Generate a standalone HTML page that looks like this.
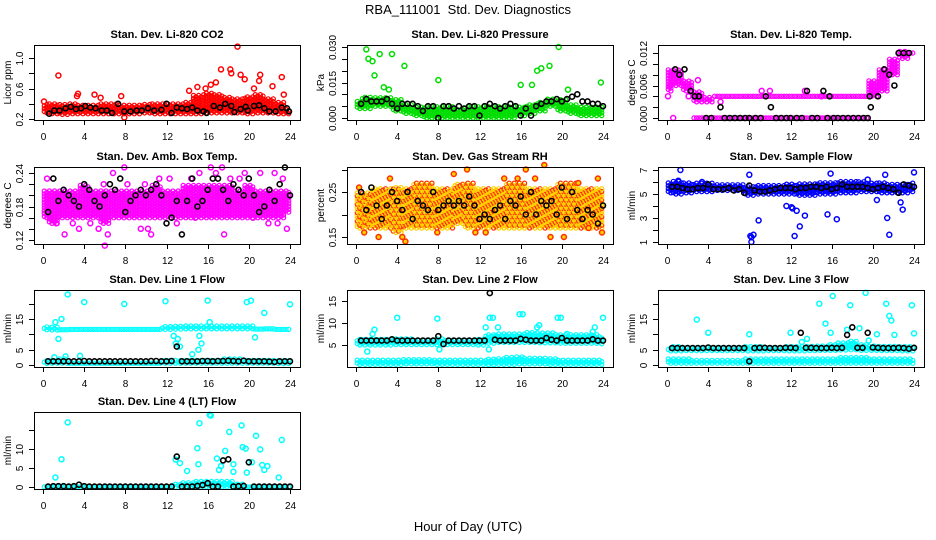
<!DOCTYPE html>
<html><head><meta charset="utf-8"><title>RBA_111001 Std. Dev. Diagnostics</title>
<style>
html,body{margin:0;padding:0;background:#fff;}
svg{display:block;font-family:"Liberation Sans",sans-serif;}
</style></head>
<body>
<svg id="chart" width="936" height="540" viewBox="0 0 936 540">
<text x="468" y="14" font-size="13" text-anchor="middle">RBA_111001&#160; Std. Dev. Diagnostics</text>
<text x="468" y="531" font-size="13" text-anchor="middle">Hour of Day (UTC)</text>
</svg>
<script>
// ---------- shared categories ----------
const bandHours = [0,1,2,3,4,5,6,7,8,9,10,11,12,13,14,15,16,17,18,19,20,21,22,23,24];
const halfHours = [0.5,1,1.5,2,2.5,3,3.5,4,4.5,5,5.5,6,6.5,7,7.5,8,8.5,9,9.5,10,10.5,11,11.5,12,12.5,13,13.5,14,14.5,15,15.5,16,16.5,17,17.5,18,18.5,19,19.5,20,20.5,21,21.5,22,22.5,23,23.5,24];
const xTickLabels = [0,4,8,12,16,20,24];

// ---------- CO2 ----------
const co2Lo = [0.28,0.27,0.26,0.27,0.27,0.27,0.27,0.27,0.27,0.27,0.28,0.27,0.27,0.27,0.27,0.27,0.28,0.28,0.28,0.28,0.27,0.28,0.28,0.27,0.27];
const co2Hi = [0.40,0.41,0.39,0.40,0.39,0.39,0.40,0.40,0.39,0.39,0.40,0.40,0.40,0.40,0.43,0.52,0.55,0.52,0.50,0.47,0.50,0.52,0.47,0.43,0.34];
const co2OutX = [1.5,3.4,3.3,5,5.6,7.6,7.9,14.2,15.8,16.3,17.3,18.2,18.3,18.9,19.2,19.6,21.1,21,22.3,23.2,23.4,0.1,15,16.8,20.5];
const co2OutY = [0.77,0.53,0.50,0.52,0.48,0.50,0.22,0.57,0.60,0.65,0.85,0.85,0.80,1.15,0.78,0.72,0.78,0.70,0.63,0.75,0.52,0.43,0.62,0.68,0.6];
const co2BlkX = [0.6,1.1,1.6,2.2,2.7,3.2,3.7,4.1,4.6,5.1,5.7,6.2,6.7,7.3,7.9,8.5,9.1,9.6,10.2,10.8,11.5,12,12.5,13,13.5,14,14.5,15,15.6,15.9,16.6,17.2,17.7,18.3,18.6,19.2,19.7,19.9,20.5,21,21.5,22,22.6,23.2,23.7,23.9];
const co2BlkY = [0.27,0.31,0.31,0.34,0.36,0.33,0.34,0.37,0.35,0.34,0.31,0.31,0.28,0.40,0.30,0.30,0.31,0.31,0.34,0.31,0.32,0.40,0.28,0.35,0.34,0.33,0.35,0.31,0.30,0.28,0.37,0.35,0.40,0.37,0.29,0.33,0.36,0.31,0.37,0.38,0.34,0.30,0.30,0.35,0.34,0.30];

// ---------- Pressure ----------
const presLo = [0.004,0.004,0.005,0.005,0.003,0.002,0.001,0.000,0.000,0.000,0.000,0.000,0.000,0.000,0.000,0.000,0.001,0.002,0.003,0.005,0.003,0.002,0.001,0.001,0.001];
const presHi = [0.007,0.009,0.009,0.009,0.008,0.006,0.005,0.005,0.005,0.005,0.004,0.005,0.005,0.005,0.005,0.005,0.005,0.006,0.007,0.008,0.008,0.006,0.005,0.005,0.005];
const presOutX = [1,1.2,1.6,1.8,2.3,3.5,4.7,8,16,17.1,17.6,18,18.8,19.7,20.6,23.8,2.7,3.2];
const presOutY = [0.029,0.025,0.024,0.018,0.027,0.027,0.022,0.016,0.014,0.014,0.020,0.021,0.022,0.030,0.012,0.015,0.013,0.012];
const presBlkY = [0.006,0.008,0.007,0.007,0.007,0.008,0.006,0.004,0.006,0.006,0.006,0.005,0.003,0.005,0.005,0.000,0.005,0.005,0.004,0.005,0.004,0.005,0.005,0.001,0.005,0.006,0.005,0.004,0.005,0.006,0.005,0.001,0.004,0.001,0.005,0.006,0.007,0.007,0.008,0.007,0.008,0.009,0.010,0.007,0.007,0.006,0.006,0.005];

// ---------- Li-820 Temp ----------
const tempLo = [0.005,0.006,0.005,0.003,0.003,0.004,0.004,0.004,0.004,0.004,0.004,0.004,0.004,0.004,0.004,0.004,0.004,0.004,0.004,0.004,0.004,0.005,0.008,0.011,0.012];
const tempHi = [0.009,0.009,0.007,0.005,0.004,0.004,0.004,0.004,0.004,0.004,0.004,0.004,0.004,0.004,0.004,0.004,0.004,0.004,0.004,0.004,0.007,0.009,0.011,0.0125,0.0125];
const tempZeroLo = [null,null,null,0,0,0,0,0,0,0,0,0,0,0,0,0,0,0,0,0,null,null,null,null,null];
const tempZeroHi = [null,null,null,0,0,0,0,0,0,0,0,0,0,0,0,0,0,0,0,0,null,null,null,null,null];
const tempOutX = [0.6,0.1,0.3,2.1,3.0,5.2,9.2,10,13.4,15.0];
const tempOutY = [0.000,0.004,0.006,0.004,0.007,0.003,0.005,0.005,0.005,0.004];
const tempBlkX = [0.8,1.2,1.7,2.3,2.7,3.1,3.8,4.3,5.2,5.6,6.1,6.6,7.1,7.6,8,8.6,9.1,9.6,10.1,10.6,11.1,11.6,12,12.6,13.1,13.6,14.1,14.6,15.2,15.6,15.8,16.2,16.6,17.1,17.6,18.1,18.6,19.1,19.5,19.7,19.8,20.5,21.1,21.6,22.1,22.5,23,23.5];
const tempBlkY = [0.009,0.008,0.009,0.005,0.004,0.004,0,0,0.002,0,0,0,0,0,0,0,0,0.004,0.002,0,0,0,0,0,0,0.005,0,0,0.005,0,0.004,0,0,0,0,0,0,0,0,0.004,0.002,0.004,0.009,0.008,0.006,0.012,0.012,0.012];

// ---------- Amb Box Temp ----------
const ambLo = [0.16,0.15,0.16,0.16,0.16,0.16,0.15,0.16,0.16,0.16,0.16,0.16,0.16,0.16,0.16,0.16,0.16,0.16,0.16,0.16,0.16,0.16,0.16,0.16,0.17];
const ambHi = [0.21,0.21,0.21,0.21,0.22,0.21,0.21,0.21,0.21,0.21,0.21,0.22,0.21,0.21,0.22,0.22,0.22,0.22,0.22,0.21,0.22,0.21,0.21,0.21,0.21];
const ambOutX = [0.4,0.7,2.1,2.9,3.5,4.6,5.4,6.0,6.3,6.8,7.9,8.2,9.5,9.9,10.5,11.3,12.3,13.0,14.4,15.2,16.3,16.8,17.4,17.6,18.2,19.1,20.4,21.1,21.9,22.5,23.3,23.7,1.3,5.9,10.2,14.8,19.6,22.8];
const ambOutY = [0.23,0.16,0.13,0.15,0.14,0.15,0.14,0.11,0.13,0.24,0.25,0.22,0.14,0.22,0.13,0.23,0.23,0.15,0.23,0.24,0.25,0.24,0.25,0.13,0.23,0.23,0.16,0.24,0.15,0.24,0.23,0.14,0.15,0.22,0.14,0.16,0.24,0.15];
const ambBlkY = [0.17,0.23,0.19,0.21,0.20,0.19,0.18,0.22,0.21,0.19,0.18,0.20,0.22,0.21,0.23,0.17,0.19,0.20,0.21,0.20,0.21,0.22,0.20,0.15,0.16,0.19,0.13,0.19,0.23,0.18,0.19,0.21,0.23,0.23,0.21,0.19,0.22,0.21,0.20,0.23,0.20,0.17,0.18,0.21,0.19,0.22,0.25,0.20];

// ---------- Gas Stream RH ----------
const rhLo = [0.17,0.17,0.17,0.17,0.16,0.17,0.17,0.17,0.17,0.17,0.18,0.17,0.17,0.17,0.17,0.17,0.17,0.17,0.17,0.17,0.17,0.17,0.17,0.17,0.17];
const rhHi = [0.25,0.25,0.26,0.26,0.26,0.26,0.27,0.27,0.26,0.26,0.27,0.27,0.26,0.26,0.26,0.27,0.27,0.26,0.26,0.26,0.27,0.27,0.26,0.26,0.26];
const rhOutX = [0.3,0.8,2.2,3.3,4.5,4.8,9.5,10.8,11.6,14.4,15.7,16.5,17.4,18.3,18.9,20.2,21.6,22.6,23.5,23.9,7.9,12.6];
const rhOutY = [0.26,0.16,0.15,0.28,0.15,0.14,0.29,0.30,0.16,0.28,0.28,0.30,0.28,0.31,0.15,0.15,0.27,0.17,0.28,0.16,0.16,0.16];
const rhBlkY = [0.25,0.21,0.26,0.22,0.19,0.22,0.25,0.23,0.21,0.25,0.19,0.23,0.22,0.21,0.25,0.21,0.22,0.23,0.22,0.23,0.22,0.24,0.22,0.19,0.20,0.19,0.21,0.22,0.19,0.23,0.22,0.24,0.20,0.25,0.20,0.23,0.22,0.23,0.20,0.26,0.19,0.25,0.21,0.19,0.21,0.20,0.18,0.22];

// ---------- Sample Flow ----------
const sfLo = [5.1,5.0,5.1,5.2,5.2,5.3,5.3,5.3,4.9,5.0,5.0,5.0,5.0,4.9,4.9,5.0,5.0,5.1,5.1,5.2,5.2,5.1,5.1,5.1,5.2];
const sfHi = [6.0,6.1,6.0,5.9,5.9,5.8,5.8,5.8,5.7,5.7,5.8,5.8,5.9,5.9,5.9,6.0,6.0,6.1,6.1,6.1,6.0,6.0,5.9,5.9,6.0];
const sfOutX = [1.3,1.1,3.4,8.0,8.2,8.4,8.2,8.9,8.1,11.6,12.2,12.4,12.6,12.1,12.9,13.4,15.6,15.9,15.7,16.5,19.5,20.4,21.2,21.4,21.6,22.9,22.7,24];
const sfOutY = [7.0,6.1,6.0,6.6,1.0,1.6,1.4,2.8,1.5,4.0,3.8,1.5,3.6,3.9,2.3,3.2,3.3,6.7,5.3,2.9,6.2,4.5,6.6,3.0,1.6,3.7,4.3,6.8];
const sfBlkY = [5.6,5.6,5.5,5.4,5.4,5.5,5.5,5.8,5.4,5.4,5.4,5.5,5.3,5.4,5.1,5.7,5.3,5.2,5.2,5.3,5.4,5.5,5.5,5.5,5.4,5.5,5.5,5.6,5.6,5.5,5.6,5.4,5.5,5.8,5.6,5.6,5.6,5.6,5.5,5.4,5.5,5.6,5.5,5.4,5.1,5.8,5.7,5.6];

// ---------- Line 1 Flow ----------
const l1aLo = [11.5,11.4,11.5,11.6,11.6,11.6,11.6,11.6,11.6,11.6,11.6,11.6,11.6,11.7,11.8,11.8,11.8,11.8,11.8,11.8,11.8,11.7,11.8,11.6,11.6];
const l1aHi = [12.8,12.6,12.4,12.4,12.4,12.4,12.3,12.3,12.4,12.4,12.4,12.5,12.8,13.0,12.8,12.9,12.8,12.8,12.8,12.8,12.9,12.6,12.5,12.3,12.2];
const l1bLo = [0.5,0.6,0.6,0.6,0.6,0.6,0.6,0.6,0.6,0.6,0.6,0.6,0.6,0.6,0.6,0.6,0.6,0.6,0.6,0.6,0.6,0.6,0.6,0.5,0.5];
const l1bHi = [1.5,1.6,2.0,1.5,1.5,1.5,1.5,1.5,1.5,1.5,1.5,1.5,1.6,1.8,1.6,1.6,1.8,1.9,2.0,2.0,1.8,1.6,1.6,1.6,1.6];
const l1OutX = [1.5,1.1,2.4,1.8,4,3.6,1.2,2.2,7.9,11.9,12.9,13.1,13.3,14.5,15.1,15.4,16,16.2,19.8,20.2,20.6,21.5,24,12.7,15.2];
const l1OutY = [8.5,2.5,23.0,15.0,20.5,3.0,14.0,2.8,19.9,20.8,7.0,8.5,6.0,3.5,5.0,7.0,21.0,14.0,20.5,21.0,9.0,17.0,19.8,9.5,9.5];
const l1BlkY = [1.2,1.2,1.2,1.2,1.2,1.2,1.2,1.3,1.2,1.2,1.2,1.2,1.2,1.2,1.2,1.2,1.2,1.2,1.2,1.2,1.3,1.3,1.2,1.2,1.3,6.0,1.2,1.2,1.2,1.2,1.3,1.3,1.2,1.3,1.3,1.4,1.3,1.2,1.4,1.2,1.2,1.2,1.2,1.1,1.0,1.2,1.2,1.2];

// ---------- Line 2 Flow ----------
const l2aLo = [5.0,5.0,5.0,5.0,5.1,5.1,5.1,5.1,5.1,5.1,5.1,5.1,5.0,5.4,5.6,5.6,5.6,5.6,5.5,5.5,5.4,5.4,5.4,5.4,5.3];
const l2aHi = [6.5,6.5,6.3,6.3,6.4,6.4,6.2,6.2,6.4,6.3,6.3,6.3,6.5,7.4,7.6,7.8,7.8,8.0,8.0,7.8,7.6,7.5,7.6,7.5,7.0];
const l2bLo = [0.6,0.6,0.6,0.6,0.6,0.7,0.7,0.7,0.6,0.6,0.6,0.6,0.6,0.5,0.6,0.6,0.7,0.7,0.7,0.6,0.6,0.6,0.6,0.6,0.6];
const l2bHi = [1.8,1.8,1.7,1.7,1.7,1.7,1.8,1.8,1.8,1.8,1.8,1.8,1.8,1.8,2.0,2.2,2.3,2.0,2.0,2.0,1.8,1.8,1.8,1.8,1.8];
const l2OutX = [1.1,1.6,1.8,4,7.9,8.1,12.6,13,13.3,13.6,13.8,15.9,16.2,17.6,19.6,19.9,23,23.2,24,17.8,20.5,12.9];
const l2OutY = [3.5,7.5,8.5,11.2,11.0,4.0,9.0,11.2,11.2,7.0,9.0,12.0,12.0,9.0,11.2,11.2,8.0,9.0,11.2,9.5,7.5,4.0];
const l2BlkY = [6,6,6,6,6,6,6.3,6,6,6,6,6,6,6,6,7,5.2,6,6,6,6,6,6,6,6,16.8,6.2,6,6,6,6,6.4,6.2,6,6,6,6.6,6.2,6,6.6,6,6,6,6,6,6.3,6,6];

// ---------- Line 3 Flow ----------
const l3aLo = [4.6,4.6,4.7,4.7,4.7,4.7,4.7,4.7,4.6,4.6,4.7,4.7,4.6,4.6,4.7,4.8,4.8,4.9,5.0,4.8,4.8,4.7,4.7,4.6,4.6];
const l3aHi = [5.9,6.2,6.0,6.0,6.0,6.0,6.0,6.0,6.1,6.0,6.0,6.0,6.0,6.2,6.3,6.5,7.0,7.5,8.0,7.0,6.6,6.3,6.2,6.2,6.0];
const l3bLo = [0.6,0.6,0.6,0.6,0.6,0.6,0.6,0.6,0.6,0.6,0.6,0.6,0.6,0.6,0.6,0.6,0.6,0.6,0.6,0.6,0.6,0.6,0.6,0.6,0.6];
const l3bHi = [2.0,2.0,2.0,1.9,1.9,1.9,1.9,1.9,2.0,2.0,2.0,2.0,2.0,2.0,2.1,2.3,2.4,2.6,2.7,2.5,2.3,2.1,2.0,2.0,2.0];
const l3OutX = [2.9,4,8,12,13.1,14.8,15.4,15.9,16.1,17.8,18.7,19.3,19.6,20.4,21.3,21.6,21.8,22.1,23.8,24,17.5,13.6];
const l3OutY = [14.8,10.5,10.0,10.5,7.5,20.0,13.5,10.5,22.5,19.5,12.0,23.5,8.0,10.0,20.0,16.0,14.5,9.8,19.5,10.3,11.5,8.5];
const l3BlkY = [5.5,5.5,5.5,5.5,5.5,5.5,5.5,5.7,5.5,5.5,5.5,5.5,5.5,5.5,5.5,1.2,5.5,5.6,5.6,5.5,5.5,5.5,5.6,5.6,5.5,10.5,5.6,5.6,5.5,5.5,5.5,5.6,5.5,5.6,9.8,12.3,5.6,5.6,10.5,5.7,5.6,5.5,5.5,5.5,5.6,5.5,5.3,5.6];

// ---------- Line 4 Flow ----------
const l4Lo = [0,0,0,0,0,0,0,0,0,0,0,0,0,0,0,0,0,0,0,0,0,0,0,0,0];
const l4Hi = [0.6,0.6,0.6,0.6,0.6,0.6,0.6,0.5,0.5,0.5,0.5,0.5,0.5,0.8,1.4,1.5,1.6,1.5,1.6,0.8,0.6,0.6,0.6,0.5,0.5];
const l4OutX = [1.2,1.8,2.4,12.9,13.3,14,15,15.2,15.1,16.2,16.3,16.9,17.1,17.3,17.7,18.1,18.5,18.5,19.3,19.4,19.7,19.8,20.3,20.7,21.1,21.3,21.5,21.8,22.9,23.2];
const l4OutY = [2.5,7.3,17.0,7.2,6.3,4.2,10.2,16.8,6.0,19.0,18.8,7.5,4.5,5.5,9.5,14.5,6.0,4.0,16.2,10.5,10.1,3.8,6.5,13.5,9.9,5.8,4.5,5.5,2.5,12.4];
const l4BlkY = [0.1,0.2,0.2,0.2,0.1,0.2,0.6,0.2,0.1,0.1,0.1,0.1,0.1,0.1,0.1,0.1,0.1,0.1,0.1,0.1,0.1,0.1,0.1,0.1,0.1,8.0,0.1,0.1,0.1,0.3,0.5,1.0,0.1,0.1,7.0,7.3,0.1,0.2,0.3,6.5,0.1,0.1,0.1,0.1,0.1,0.1,0.1,0.1];

// ---------- panel layout ----------
const panels = [
 {id:'co2', title:'Stan. Dev. Li-820 CO2', ylab:'Licor ppm', left:34, top:45, bottom:120, cal:[0.2,119,1.0,58],
  ticks:[0.2,0.4,0.6,0.8,1.0], labs:['0.2','','0.6','','1.0'], color:'#ff0000',
  bands:[[co2Lo,co2Hi]], outX:co2OutX, outY:co2OutY, blkX:co2BlkX, blkY:co2BlkY},
 {id:'pressure', title:'Stan. Dev. Li-820 Pressure', ylab:'kPa', left:347, top:45, bottom:120, cal:[0,118,0.03,47],
  ticks:[0,0.005,0.01,0.015,0.02,0.025,0.03], labs:['0.000','','','0.015','','','0.030'], color:'#00dd00',
  bands:[[presLo,presHi]], outX:presOutX, outY:presOutY, blkX:halfHours, blkY:presBlkY},
 {id:'li820-temp', title:'Stan. Dev. Li-820 Temp.', ylab:'degrees C', left:658, top:45, bottom:120, cal:[0,118,0.012,53],
  ticks:[0,0.002,0.004,0.006,0.008,0.01,0.012], labs:['0.000','','','0.006','','','0.012'], color:'#ff00ff',
  bands:[[tempLo,tempHi],[tempZeroLo,tempZeroHi]], outX:tempOutX, outY:tempOutY, blkX:tempBlkX, blkY:tempBlkY},
 {id:'amb-box-temp', title:'Stan. Dev. Amb. Box Temp.', ylab:'degrees C', left:34, top:167, bottom:244, cal:[0.12,240,0.24,173],
  ticks:[0.12,0.14,0.16,0.18,0.2,0.22,0.24], labs:['0.12','','','0.18','','','0.24'], color:'#ff00ff',
  bands:[[ambLo,ambHi]], outX:ambOutX, outY:ambOutY, blkX:halfHours, blkY:ambBlkY},
 {id:'gas-rh', title:'Stan. Dev. Gas Stream RH', ylab:'percent', left:347, top:167, bottom:244, cal:[0.15,237,0.25,192],
  ticks:[0.15,0.2,0.25,0.3], labs:['0.15','','0.25',''], color:'#ffd000', color2:'#ff3000',
  bands:[[rhLo,rhHi]], outX:rhOutX, outY:rhOutY, blkX:halfHours, blkY:rhBlkY},
 {id:'sample-flow', title:'Stan. Dev. Sample Flow', ylab:'ml/min', left:658, top:167, bottom:244, cal:[1,242,7,170],
  ticks:[1,2,3,4,5,6,7], labs:['1','','3','','5','','7'], color:'#0000ff',
  bands:[[sfLo,sfHi]], outX:sfOutX, outY:sfOutY, blkX:halfHours, blkY:sfBlkY},
 {id:'line1-flow', title:'Stan. Dev. Line 1 Flow', ylab:'ml/min', left:34, top:290, bottom:367, cal:[0,365,15,319],
  ticks:[0,5,10,15,20], labs:['0','5','','15',''], color:'#00ffff',
  bands:[[l1aLo,l1aHi],[l1bLo,l1bHi]], outX:l1OutX, outY:l1OutY, blkX:halfHours, blkY:l1BlkY},
 {id:'line2-flow', title:'Stan. Dev. Line 2 Flow', ylab:'ml/min', left:347, top:290, bottom:367, cal:[5,345,15,301],
  ticks:[5,10,15], labs:['5','10','15'], color:'#00ffff',
  bands:[[l2aLo,l2aHi],[l2bLo,l2bHi]], outX:l2OutX, outY:l2OutY, blkX:halfHours, blkY:l2BlkY},
 {id:'line3-flow', title:'Stan. Dev. Line 3 Flow', ylab:'ml/min', left:658, top:290, bottom:367, cal:[0,365,15,319],
  ticks:[0,5,10,15,20], labs:['0','5','','15',''], color:'#00ffff',
  bands:[[l3aLo,l3aHi],[l3bLo,l3bHi]], outX:l3OutX, outY:l3OutY, blkX:halfHours, blkY:l3BlkY},
 {id:'line4-flow', title:'Stan. Dev. Line 4 (LT) Flow', ylab:'ml/min', left:34, top:412, bottom:489, cal:[0,487,10,449],
  ticks:[0,5,10,15], labs:['0','5','10',''], color:'#00ffff',
  bands:[[l4Lo,l4Hi]], outX:l4OutX, outY:l4OutY, blkX:halfHours, blkY:l4BlkY}
];

const NS = 'http://www.w3.org/2000/svg';
const svg = document.getElementById('chart');
const W = 266, PXH = 247/24;
function mk(tag, attrs, parent){
  const e = document.createElementNS(NS, tag);
  for (const k in attrs) e.setAttribute(k, attrs[k]);
  parent.appendChild(e); return e;
}

panels.forEach(p => {
  const g = mk('g', {}, svg);
  
  
  const xs = h => p.left + 9 + h * PXH;
  const ys = v => p.cal[1] + (v - p.cal[0]) * (p.cal[3] - p.cal[1]) / (p.cal[2] - p.cal[0]);

  // dense bands
  const bg = mk('g', {fill:'none', 'stroke-width':'1.2'}, g);
  
  
  let k = 0;
  p.bands.forEach(b => {
    const lo = b[0], hi = b[1];
    bandHours.forEach((h, i) => {
      if (lo[i] === null || hi[i] === null) return;
      const yTop = ys(hi[i]), yBot = ys(lo[i]);
      let row = 0;
      for (let dx = -0.5; dx < 0.5; dx += 0.25) {
        const hh = h + dx + 0.125;
        if (hh < 0 || hh > 24) continue;
        row++;
        const off = (row % 2) * 1.4;
        let y = yBot - (yBot - yTop > 3 ? off : 0);
        do {
          k++;
          mk('circle', {cx:xs(hh).toFixed(1), cy:y.toFixed(1), r:'2.1',
            stroke: (p.color2 && k % 3 === 0) ? p.color2 : p.color}, bg);
          y -= 2.8;
        } while (y >= yTop - 0.01);
      }
    });
  });

  // outliers
  const og = mk('g', {fill:'none', 'stroke-width':'1.5', stroke:p.color}, g);
  
  
  p.outX.forEach((h, i) => {
    const y = ys(p.outY[i]);
    if (y < p.top - 2 || y > p.bottom + 2) return;
    const c = mk('circle', {cx:xs(h).toFixed(1), cy:y.toFixed(1), r:'2.5'}, og);
    if (p.color2) { c.setAttribute('stroke', p.color2); c.setAttribute('fill', p.color); }
  });

  // black points
  const kg = mk('g', {fill:'none', 'stroke-width':'1.6', stroke:'#000'}, g);
  
  
  const n = Math.min(p.blkX.length, p.blkY.length);
  for (let i = 0; i < n; i++) {
    if (p.blkY[i] === null) continue;
    mk('circle', {cx:xs(p.blkX[i]).toFixed(1), cy:ys(p.blkY[i]).toFixed(1), r:'2.5'}, kg);
  }

  // box
  const box = mk('rect', {x:p.left + 0.5, y:p.top + 0.5, width:W, height:p.bottom - p.top, fill:'none', stroke:'#000', 'stroke-width':'1'}, g);
  
  

  // title
  const t = mk('text', {x:p.left + W/2, y:p.top - 7, 'font-size':'11', 'font-weight':'bold', 'text-anchor':'middle'}, g);
  t.textContent = p.title;
  
  

  // x axis
  const xa = mk('g', {stroke:'#000', 'stroke-width':'1'}, g);
  
  
  xTickLabels.forEach(v => {
    const x = Math.round(xs(v)) + 0.5;
    mk('line', {x1:x, x2:x, y1:p.bottom, y2:p.bottom + 5}, xa);
    const tx = mk('text', {x:x, y:p.bottom + 20, 'font-size':'10', 'text-anchor':'middle', stroke:'none'}, xa);
    tx.textContent = v;
    
    
  });

  // y axis
  const ya = mk('g', {stroke:'#000', 'stroke-width':'1'}, g);
  
  
  p.ticks.forEach((v, i) => {
    const y = Math.round(ys(v)) + 0.5;
    mk('line', {x1:p.left - 5, x2:p.left, y1:y, y2:y}, ya);
    if (p.labs[i]) {
      const tx = mk('text', {x:0, y:0, 'font-size':'10', 'text-anchor':'middle', stroke:'none',
        transform:'translate(' + (p.left - 11) + ',' + y + ') rotate(-90)'}, ya);
      tx.textContent = p.labs[i];
      
      
    }
  });
  const yl = mk('text', {x:0, y:0, 'font-size':'10', 'text-anchor':'middle',
    transform:'translate(' + (p.left - 23) + ',' + ((p.top + p.bottom)/2) + ') rotate(-90)'}, g);
  yl.textContent = p.ylab;
  
  
});
</script>
</body></html>
